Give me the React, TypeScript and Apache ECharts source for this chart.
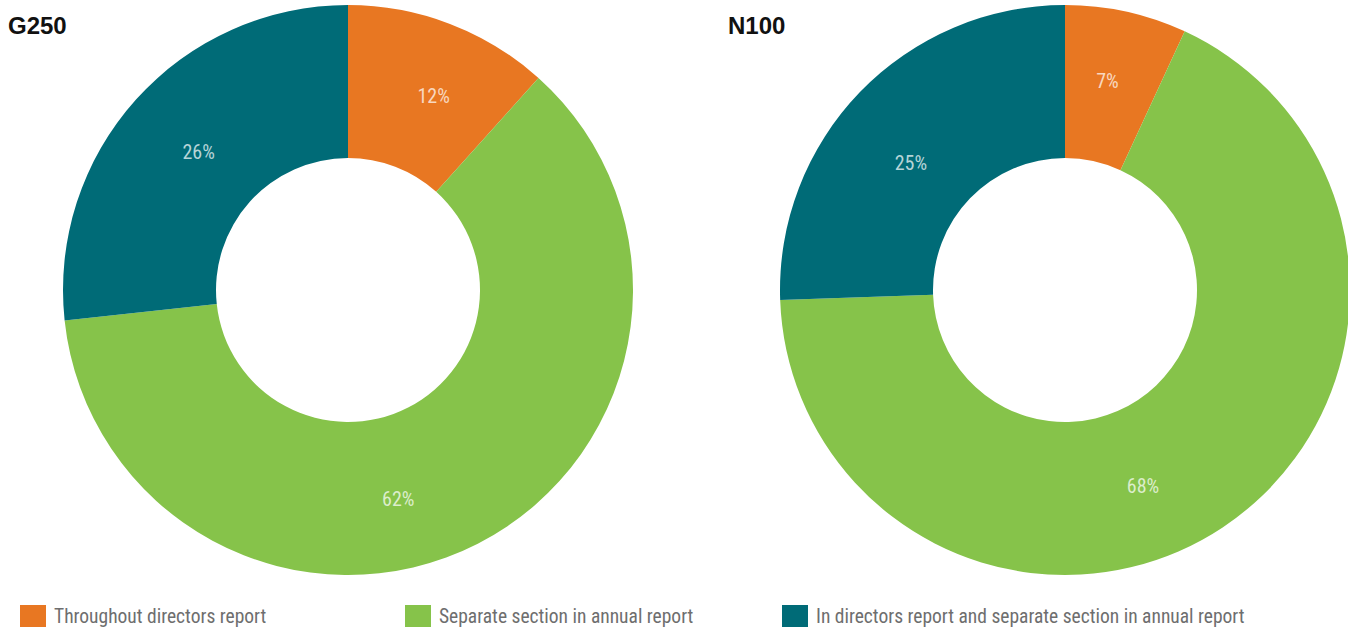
import React, { useEffect, useRef } from "react";
import * as echarts from "echarts";

const categories = [
  "Throughout directors report",
  "Separate section in annual report",
  "In directors report and separate section in annual report",
];
const colors = ["#E87722", "#86C34A", "#006B77"];
const g250Shares = [11.65, 61.65, 26.7];
const n100Shares = [6.9, 67.54, 25.56];
// percentages printed on the slices
const g250Labels = [12, 62, 26];
const n100Labels = [7, 68, 25];
const titles = ["G250", "N100"];

// label nudges from the ring's mid-point
const g250LabelShift = [[10, 3], [-46, 21], [8, 3]];
const n100LabelShift = [[-3, -2], [-39, 20], [-2, 20]];

const FONT = "'Liberation Sans Narrow', 'Roboto Condensed', Roboto, sans-serif";

export default function App() {
  const ref = useRef<HTMLDivElement>(null);
  useEffect(() => {
    if (!ref.current) return;
    const chart = echarts.init(ref.current, undefined, { renderer: "svg" });
    const mkData = (vals: number[]) =>
      vals.map((v, i) => ({ name: categories[i], value: v, itemStyle: { color: colors[i] } }));
    const mkSeries = (vals: number[], labels: number[], shifts: number[][], cx: number) => ({
      type: "pie",
      center: [cx, 290],
      radius: [132, 285],
      startAngle: 90,
      clockwise: true,
      avoidLabelOverlap: false,
      label: {
        show: true,
        position: "inside",
        formatter: (p: any) => labels[p.dataIndex] + "%",
        color: "rgba(255,255,255,0.72)",
        fontSize: 20,
        fontFamily: FONT,
      },
      labelLayout: (p: any) => ({ dx: shifts[p.dataIndex][0], dy: shifts[p.dataIndex][1] }),
      labelLine: { show: false },
      emphasis: { disabled: true },
      itemStyle: { borderWidth: 0 },
      data: mkData(vals),
    });
    const legendLefts = [20, 405, 782];
    const titleStyle = { fontSize: 24, fontWeight: "bold", color: "#111", fontFamily: "Arial, 'Liberation Sans', sans-serif" };
    chart.setOption({
      animation: false,
      title: [
        { text: titles[0], left: 8, top: 13, padding: 0, textStyle: titleStyle },
        { text: titles[1], left: 728, top: 13, padding: 0, textStyle: titleStyle },
      ],
      legend: categories.map((c, i) => ({
        data: [c],
        left: legendLefts[i],
        top: 605,
        padding: 0,
        itemWidth: 26,
        itemHeight: 22,
        icon: "rect",
        selectedMode: false,
        textStyle: { fontSize: 19.5, color: "#6e6e6e", fontFamily: FONT, padding: [0, 0, 0, 3] },
      })),
      series: [
        mkSeries(g250Shares, g250Labels, g250LabelShift, 348),
        mkSeries(n100Shares, n100Labels, n100LabelShift, 1065),
      ],
    });
    return () => chart.dispose();
  }, []);
  return (
    <div
      ref={ref}
      style={{ position: "fixed", left: 0, top: 0, width: 1348, height: 633, background: "#fff" }}
    />
  );
}
